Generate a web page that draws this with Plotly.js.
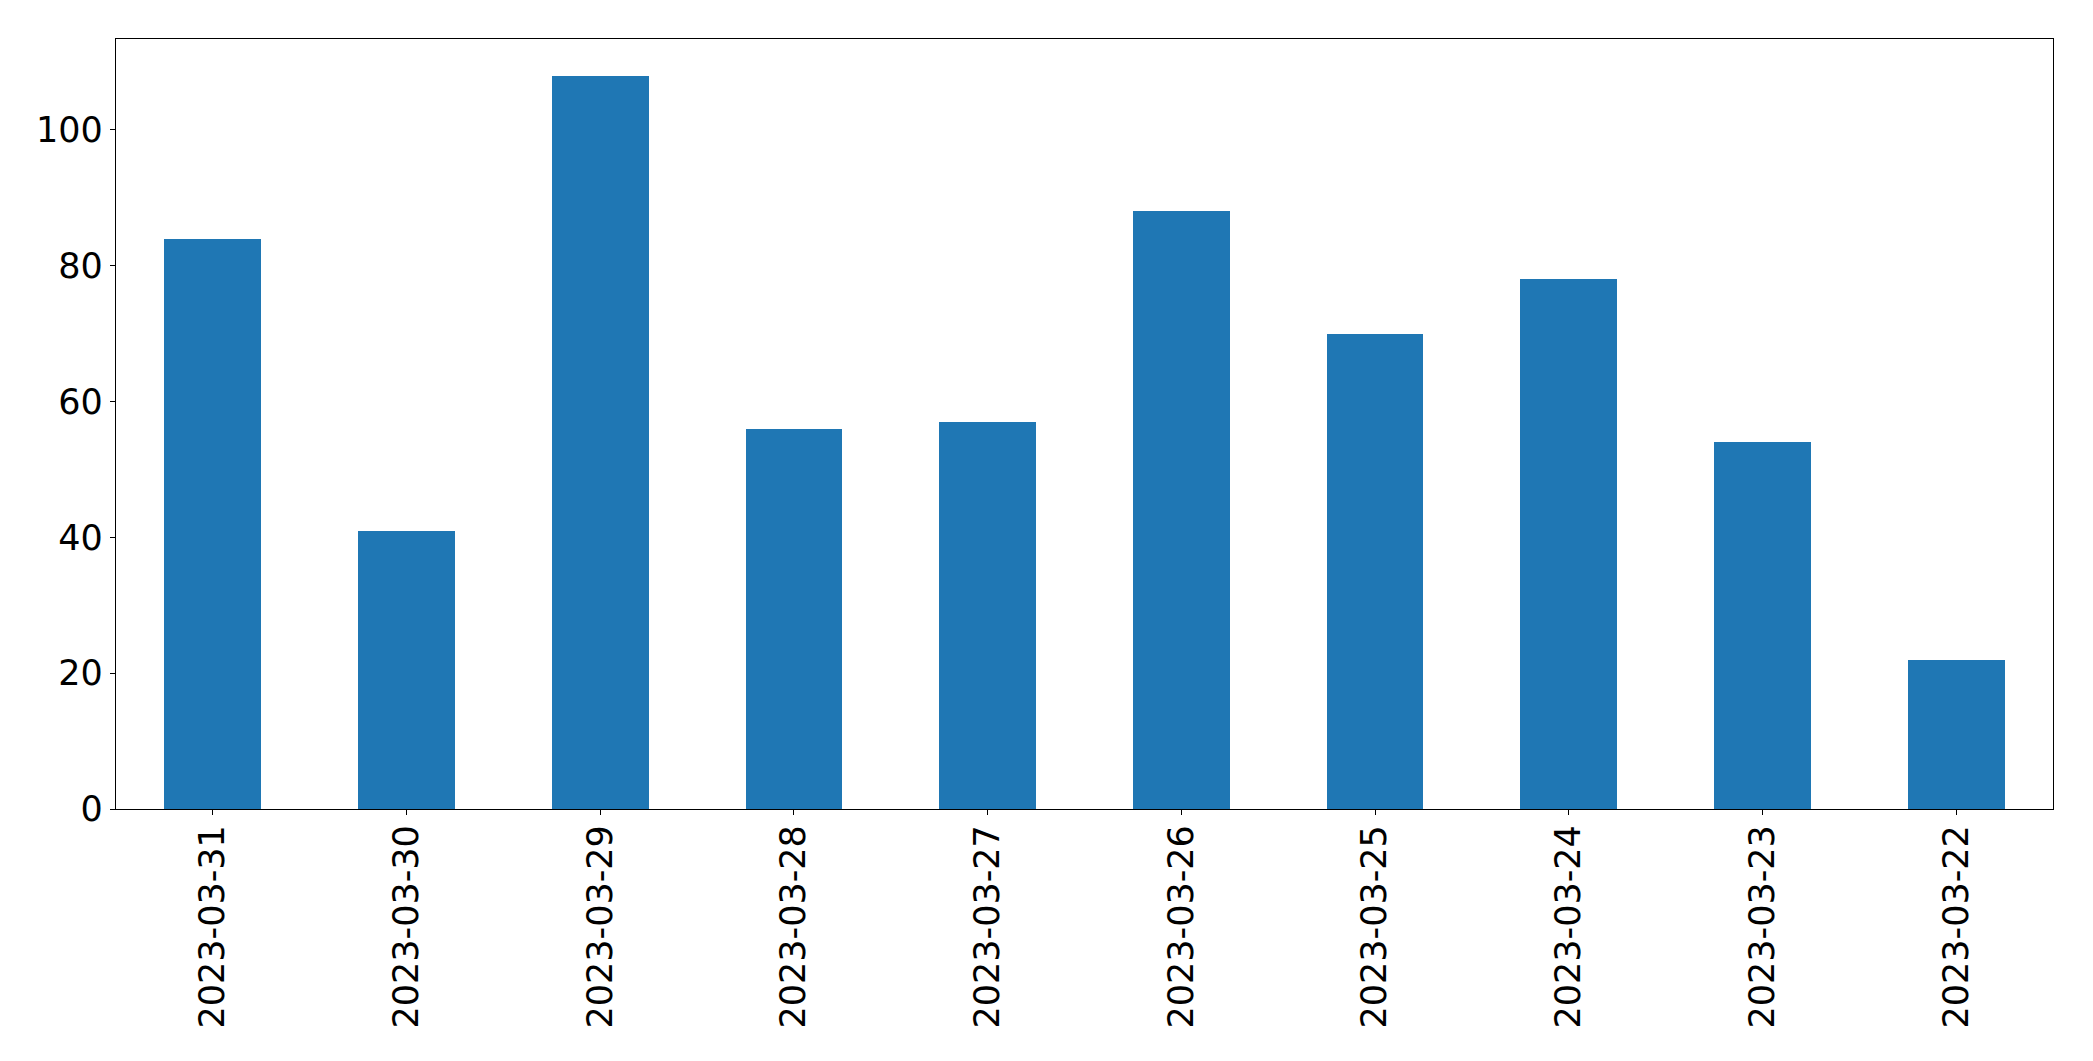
<!DOCTYPE html>
<html>
<head>
<meta charset="utf-8">
<script src="https://cdn.plot.ly/plotly-3.0.1.min.js"></script>
<style>html,body{margin:0;padding:0;background:#fff;}</style>
</head>
<body>
<div id="chart" style="width:2093px;height:1061px;"></div>
<script>
const dates = ["2023-03-31","2023-03-30","2023-03-29","2023-03-28","2023-03-27","2023-03-26","2023-03-25","2023-03-24","2023-03-23","2023-03-22"];
const counts = [84, 41, 108, 56, 57, 88, 70, 78, 54, 22];
const yTicks = [0, 20, 40, 60, 80, 100];

const trace = {
  type: "bar",
  x: dates,
  y: counts,
  width: 0.5,
  marker: {color: "#1f77b4", line: {width: 0}},
  hoverinfo: "x+y"
};

const layout = {
  width: 2093,
  height: 1061,
  margin: {l: 116, r: 40, t: 39, b: 252},
  paper_bgcolor: "#fff",
  plot_bgcolor: "#fff",
  showlegend: false,
  bargap: 0,
  font: {family: "DejaVu Sans", size: 35, color: "#000"},
  xaxis: {
    type: "category",
    categoryorder: "array",
    categoryarray: dates,
    range: [-0.5, 9.5],
    tickangle: -90,
    ticks: "outside",
    ticklen: 5,
    tickwidth: 1.3,
    tickcolor: "#000",
    ticklabelstandoff: -4,
    showline: true,
    mirror: true,
    linecolor: "#000",
    linewidth: 1.3,
    showgrid: false,
    zeroline: false,
    tickfont: {family: "DejaVu Sans", size: 35, color: "#000"}
  },
  yaxis: {
    range: [0, 113.4],
    tickvals: yTicks,
    ticktext: yTicks.map(String),
    ticks: "outside",
    ticklen: 5,
    tickwidth: 1.3,
    tickcolor: "#000",
    showline: true,
    mirror: true,
    linecolor: "#000",
    linewidth: 1.3,
    showgrid: false,
    zeroline: false,
    tickfont: {family: "DejaVu Sans", size: 35, color: "#000"}
  }
};

Plotly.newPlot("chart", [trace], layout, {displayModeBar: false});
</script>
</body>
</html>
